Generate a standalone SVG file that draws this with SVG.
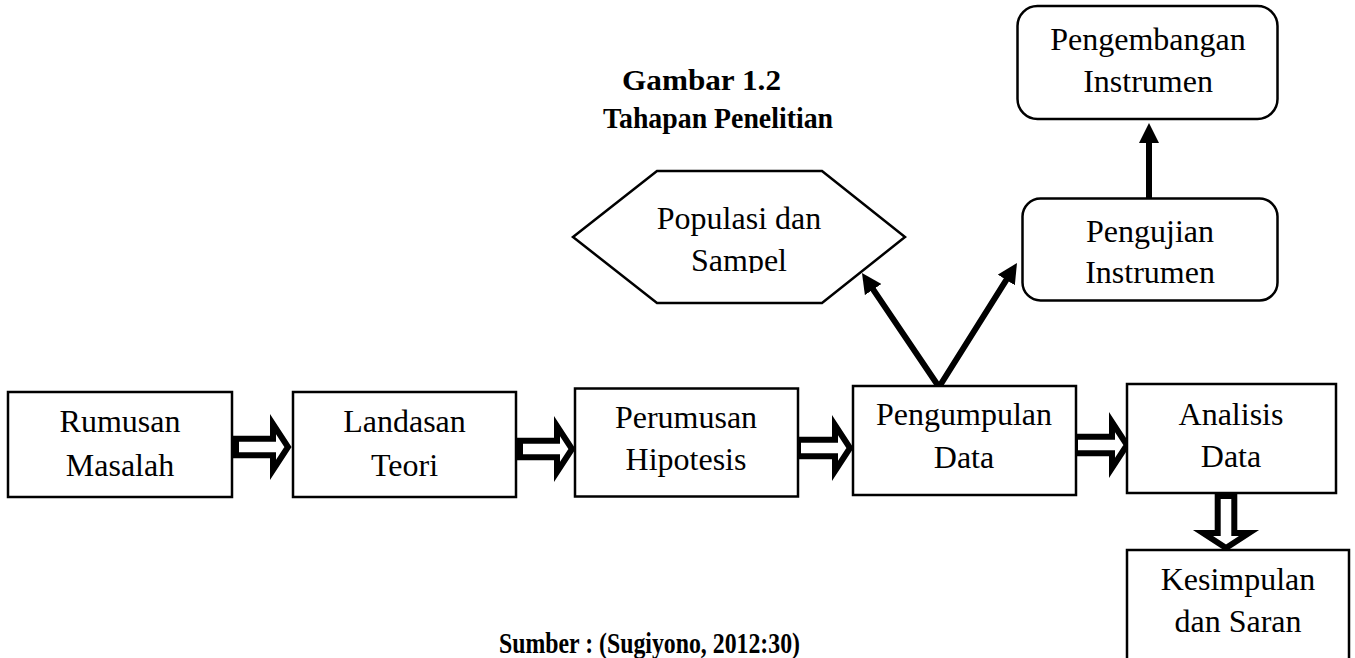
<svg xmlns="http://www.w3.org/2000/svg" width="1355" height="658" viewBox="0 0 1355 658">
<defs>
<style>
.box{fill:#fff;stroke:#000;stroke-width:2.5}
.rbox{fill:#fff;stroke:#000;stroke-width:2.5}
.t{font-family:"Liberation Serif","Times New Roman",serif;font-size:32px;fill:#000;text-anchor:middle}
.b{font-family:"Liberation Serif","Times New Roman",serif;font-size:29px;font-weight:bold;fill:#000}
.blk{fill:#fff;stroke:#000;stroke-width:6;stroke-linejoin:miter;stroke-miterlimit:10}
.thin{fill:none;stroke:#000;stroke-width:6}
</style>
<polygon id="blockArrow" class="blk" points="3,-8.3 40,-8.3 40,-23 55,0 40,23 40,8.3 3,8.3"/>
<marker id="ah" viewBox="0 0 20 20" refX="8" refY="10" markerWidth="20" markerHeight="20" markerUnits="userSpaceOnUse" orient="auto-start-reverse">
<path d="M0,0 L20,10 L0,20 z" fill="#000"/>
</marker>
<clipPath id="hexClip"><rect x="580" y="180" width="320" height="93"/></clipPath>
</defs>
<rect width="1355" height="658" fill="#fff"/>

<g id="title">
<text class="b" x="622" y="90" textLength="159" lengthAdjust="spacingAndGlyphs">Gambar 1.2</text>
<text class="b" x="603" y="128" textLength="230" lengthAdjust="spacingAndGlyphs">Tahapan Penelitian</text>
</g>

<g id="connectors">
<use href="#blockArrow" transform="translate(233,447)"/>
<use href="#blockArrow" transform="translate(517,449)"/>
<use href="#blockArrow" transform="translate(795,448)"/>
<use href="#blockArrow" transform="translate(1072,445)"/>
<use href="#blockArrow" transform="translate(1226,493) rotate(90)"/>
<path class="thin" d="M868.7,282.9 L939,387 L1010.6,273.2" stroke-linejoin="miter" marker-start="url(#ah)" marker-end="url(#ah)"/>
<line class="thin" x1="1149" y1="198" x2="1149" y2="135" marker-end="url(#ah)"/>
</g>

<g id="n-rumusan">
<rect class="box" x="8" y="392" width="224" height="105"/>
<text class="t" x="120" y="432">Rumusan</text>
<text class="t" x="120" y="476">Masalah</text>
</g>
<g id="n-landasan">
<rect class="box" x="293" y="392" width="223" height="105"/>
<text class="t" x="404.5" y="432">Landasan</text>
<text class="t" x="404.5" y="476">Teori</text>
</g>
<g id="n-perumusan">
<rect class="box" x="575" y="388.5" width="223" height="108"/>
<text class="t" x="686" y="428">Perumusan</text>
<text class="t" x="686" y="470">Hipotesis</text>
</g>
<g id="n-pengumpulan">
<rect class="box" x="853" y="386" width="223" height="109"/>
<text class="t" x="964" y="425">Pengumpulan</text>
<text class="t" x="964" y="468">Data</text>
</g>
<g id="n-analisis">
<rect class="box" x="1127" y="384" width="209" height="109"/>
<text class="t" x="1231" y="425">Analisis</text>
<text class="t" x="1231" y="467">Data</text>
</g>
<g id="n-kesimpulan">
<rect class="box" x="1127" y="550" width="222" height="120"/>
<text class="t" x="1238" y="590">Kesimpulan</text>
<text class="t" x="1238" y="632">dan Saran</text>
</g>
<g id="n-populasi">
<polygon class="box" stroke-width="2" points="573,237 657,171 822,171 905,237 822,303 657,303"/>
<g clip-path="url(#hexClip)">
<text class="t" x="739" y="229">Populasi dan</text>
<text class="t" x="739" y="271">Sampel</text>
</g>
</g>
<g id="n-pengujian">
<rect class="rbox" x="1022.5" y="198.5" width="255" height="102" rx="18"/>
<text class="t" x="1150" y="242">Pengujian</text>
<text class="t" x="1150" y="283">Instrumen</text>
</g>
<g id="n-pengembangan">
<rect class="rbox" x="1017.5" y="6" width="260" height="113" rx="20"/>
<text class="t" x="1148" y="50">Pengembangan</text>
<text class="t" x="1148" y="92">Instrumen</text>
</g>

<g id="source">
<text class="b" x="499" y="653" font-size="28" textLength="301" lengthAdjust="spacingAndGlyphs">Sumber : (Sugiyono, 2012:30)</text>
</g>
</svg>
